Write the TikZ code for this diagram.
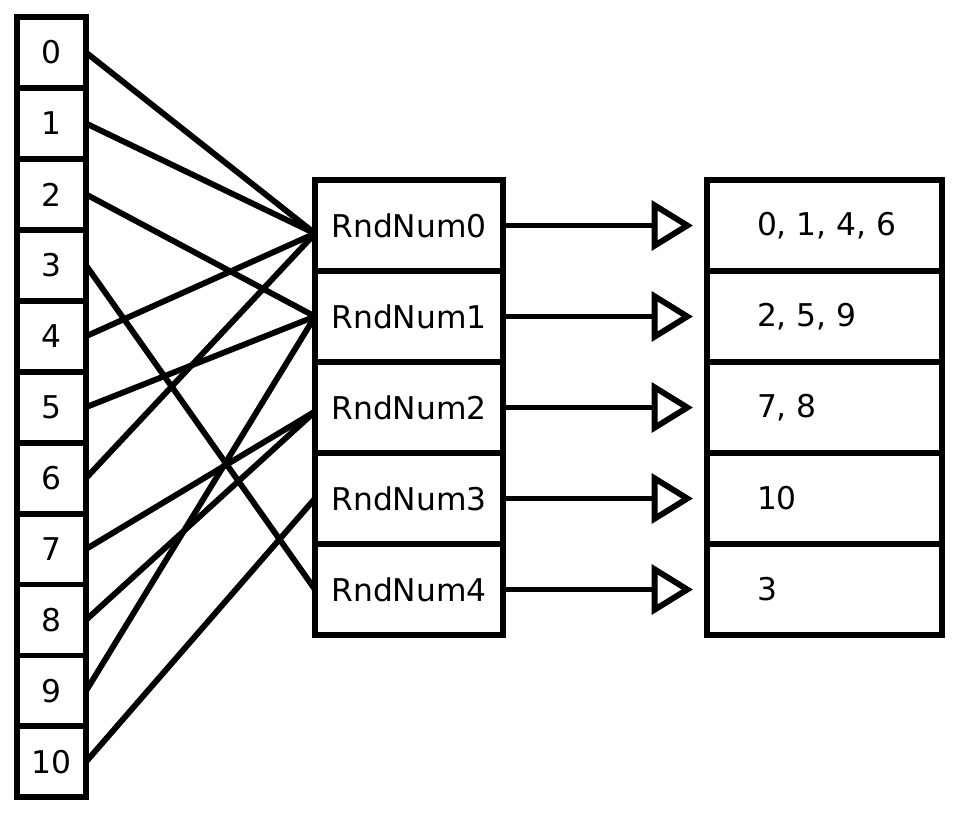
\documentclass[tikz,border=0pt]{standalone}
\usepackage{fontspec}
\setmainfont{DejaVu Sans}
\usetikzlibrary{arrows.meta}
\newlength{\lw}
\setlength{\lw}{4.4pt}
\newcommand{\bintext}[1]{\makebox[101.25pt][l]{#1}}
\tikzstyle{every picture}+=[line width=\lw]
\tikzstyle{every picture}+=[cap=butt]
\tikzstyle{every picture}+=[join=miter]
\tikzstyle{every node}+=[font=\fontsize{23.5}{28}\selectfont]
\tikzstyle{key}+=[draw, fill=white, outer sep=0pt, inner sep=0pt]
\tikzstyle{key}+=[minimum width=51.75pt, minimum height=53.2pt]
\tikzstyle{key}+=[node distance=53.2pt]
\tikzstyle{rnd}+=[draw, fill=white, outer sep=0pt, inner sep=0pt]
\tikzstyle{rnd}+=[minimum width=141pt, minimum height=68.25pt]
\tikzstyle{rnd}+=[node distance=68.25pt]
\tikzstyle{bin}+=[rnd, inner xsep=37.5pt]
\tikzstyle{link}+=[-{Triangle[open,length=31pt,width=37pt]}]
\tikzstyle{link}+=[shorten >=10.5pt]

\begin{document}
\begin{tikzpicture}[x=0.75pt,y=-0.75pt]
\useasboundingbox (0,0) rectangle (980,818);

\node[key] (k0) at (51.5,52.5) {0};
\node[key] (k1) [below of=k0] {1};
\node[key] (k2) [below of=k1] {2};
\node[key] (k3) [below of=k2] {3};
\node[key] (k4) [below of=k3] {4};
\node[key] (k5) [below of=k4] {5};
\node[key] (k6) [below of=k5] {6};
\node[key] (k7) [below of=k6] {7};
\node[key] (k8) [below of=k7] {8};
\node[key] (k9) [below of=k8] {9};
\node[key] (k10) [below of=k9] {10};

\node[rnd] (rnd0) at (409,225.5) {RndNum0};
\node[rnd] (rnd1) [below of=rnd0] {RndNum1};
\node[rnd] (rnd2) [below of=rnd1] {RndNum2};
\node[rnd] (rnd3) [below of=rnd2] {RndNum3};
\node[rnd] (rnd4) [below of=rnd3] {RndNum4};

\node[bin] (bin0) at (824.5,225.5) {\bintext{0, 1, 4, 6}};
\node[bin] (bin1) [below of=bin0] {\bintext{2, 5, 9}};
\node[bin] (bin2) [below of=bin1] {\bintext{7, 8}};
\node[bin] (bin3) [below of=bin2] {\bintext{10}};
\node[bin] (bin4) [below of=bin3] {\bintext{3}};

\path
  (k0.east) edge ([yshift=-6pt]rnd0.west)
  (k1.east) edge ([yshift=-6pt]rnd0.west)
  (k4.east) edge ([yshift=-6pt]rnd0.west)
  (k6.east) edge ([yshift=-6pt]rnd0.west)
  (k2.east) edge (rnd1.west)
  (k5.east) edge (rnd1.west)
  (k9.east) edge (rnd1.west)
  (k7.east) edge ([yshift=-3pt]rnd2.west)
  (k8.east) edge ([yshift=-3pt]rnd2.west)
  (k10.east) edge (rnd3.west)
  (k3.east) edge (rnd4.west)
  ;

\path[link]
  (rnd0) edge (bin0)
  (rnd1) edge (bin1)
  (rnd2) edge (bin2)
  (rnd3) edge (bin3)
  (rnd4) edge (bin4)
  ;
\end{tikzpicture}
\end{document}
